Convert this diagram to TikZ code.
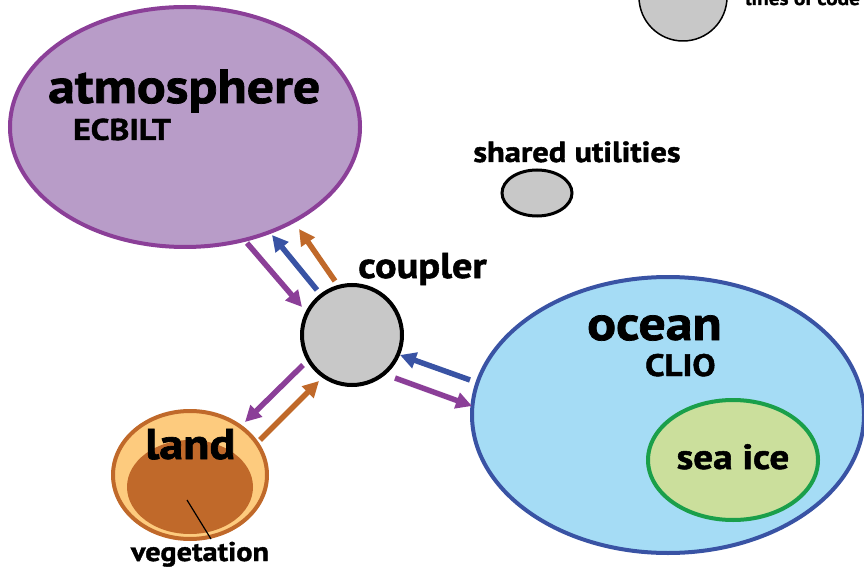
\documentclass[tikz,border=0pt]{standalone}
\usepackage{fontspec}
\setmainfont{PT Sans}[BoldFeatures={FakeStretch=1.12,FakeBold=1.5}]
\usetikzlibrary{shapes.geometric,arrows.meta}
\definecolor{atmfill}{HTML}{B89CC8}
\definecolor{cpurple}{HTML}{8B3F98}
\definecolor{cblue}{HTML}{3953A4}
\definecolor{corange}{HTML}{C0692A}
\definecolor{ocfill}{HTML}{A5DCF5}
\definecolor{icefill}{HTML}{CBDF9C}
\definecolor{icestroke}{HTML}{1A9F4A}
\definecolor{landlight}{HTML}{FDCB7E}
\definecolor{greyfill}{HTML}{C8C8C8}
\newcommand{\fs}[1]{\fontsize{#1}{#1}\selectfont\bfseries}
\tikzset{
  blob/.style={ellipse, inner sep=0pt},
  lbl/.style={anchor=base west, inner sep=0pt},
  flow/.style={line width=5.5pt, -{Triangle[length=16pt,width=16pt]}},
}
\begin{document}
\begin{tikzpicture}[x=1pt,y=-1pt]
\useasboundingbox (0,0) rectangle (864,569);
% top right legend circle
\node[circle, draw=black, line width=1.5pt, fill=greyfill, minimum size=88pt, inner sep=0pt] (loc) at (683,-3) {};
\node[lbl] (loct) at (745,5) {\fs{19}lines of code};
% atmosphere
\node[blob, draw=cpurple, fill=atmfill, line width=4pt, minimum width=350pt, minimum height=240pt] (atm) at (185,127) {};
\node[lbl] (atmt) at (48,103) {\fs{48}atmosphere};
\node[lbl] (atmm) at (73,140) {\fs{30}ECBILT};
% shared utilities
\node[lbl, anchor=base] (sut) at (577,162) {\fs{29}shared utilities};
\node[blob, draw=black, fill=greyfill, line width=3pt, minimum width=70pt, minimum height=46pt] (su) at (537,193) {};
% coupler
\node[circle, draw=black, fill=greyfill, line width=4pt, minimum size=100pt, inner sep=0pt] (cpl) at (352,335) {};
\node[lbl] (cplt) at (358,278) {\fs{36}coupler};
% ocean
\node[blob, draw=cblue, fill=ocfill, line width=4pt, minimum width=392pt, minimum height=276pt] (ocn) at (668,415) {};
\node[lbl] (ocnt) at (587,340) {\fs{48}ocean};
\node[lbl] (ocnm) at (645,376) {\fs{31}CLIO};
\node[blob, draw=icestroke, fill=icefill, line width=4pt, minimum width=170pt, minimum height=120pt] (ice) at (733,460) {};
\node[anchor=base, inner sep=0pt] (icet) at (733,469) {\fs{35}sea ice};
% land
\node[blob, draw=corange, fill=landlight, line width=4pt, minimum width=154pt, minimum height=128pt] (lnd) at (190,475) {};
\node[blob, fill=corange, minimum width=126pt, minimum height=94pt] (veg) at (190,487) {};
\node[lbl] (lndt) at (145,459) {\fs{43}land};
\node[anchor=base, inner sep=0pt] (vegt) at (200,561) {\fs{27}vegetation};
\coordinate (vegp) at (187,500);
\coordinate (vege) at (211,539);
\draw[line width=1.2pt] (vegp) -- (vege);
% arrow endpoints
\coordinate (a1s) at (247,243); \coordinate (a1e) at (302,307);
\coordinate (a2s) at (317,290); \coordinate (a2e) at (272,235);
\coordinate (a3s) at (335,281); \coordinate (a3e) at (299,229);
\coordinate (a4s) at (303,365); \coordinate (a4e) at (245,422);
\coordinate (a5s) at (260,440); \coordinate (a5e) at (319,381);
\coordinate (a6s) at (470,380); \coordinate (a6e) at (400,355);
\coordinate (a7s) at (395,378); \coordinate (a7e) at (472,406);
\draw[flow, cpurple] (a1s) -- (a1e);
\draw[flow, cblue] (a2s) -- (a2e);
\draw[flow, corange] (a3s) -- (a3e);
\draw[flow, cpurple] (a4s) -- (a4e);
\draw[flow, corange] (a5s) -- (a5e);
\draw[flow, cblue] (a6s) -- (a6e);
\draw[flow, cpurple] (a7s) -- (a7e);
\end{tikzpicture}
\end{document}
